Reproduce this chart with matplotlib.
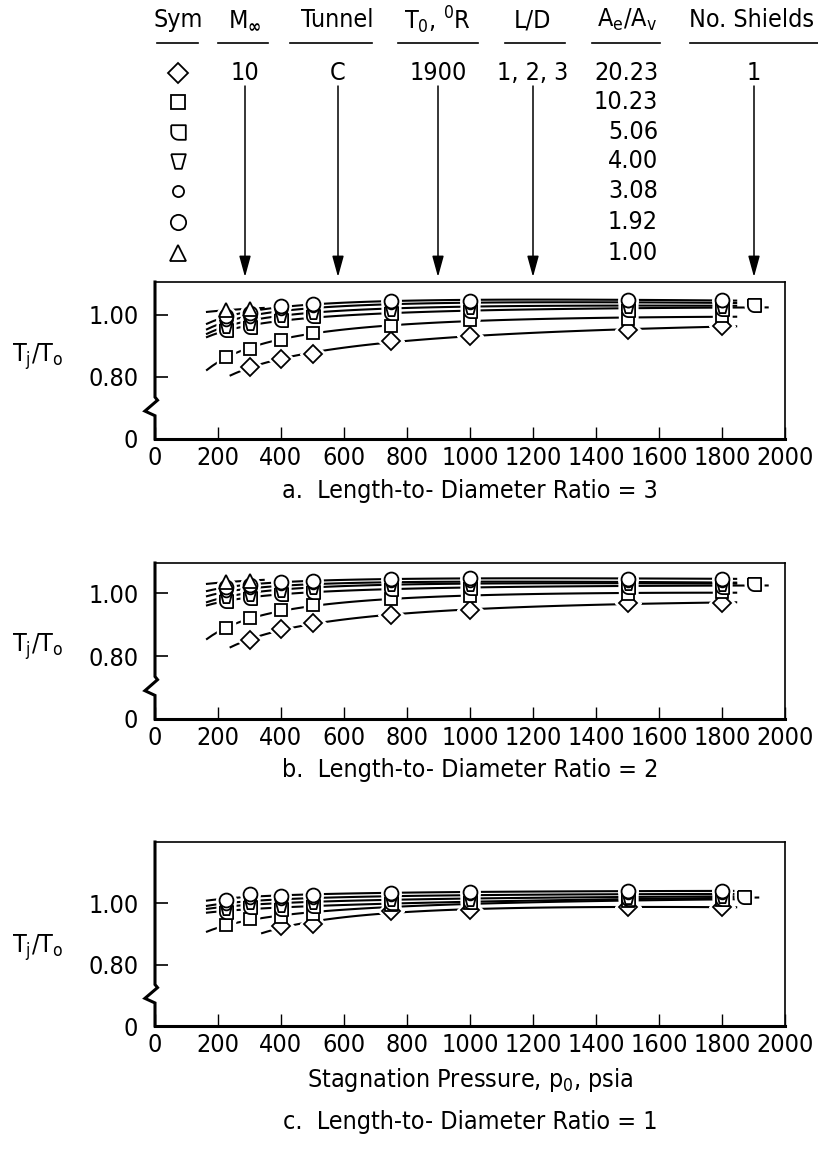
import numpy as np
import matplotlib.pyplot as plt
from matplotlib.path import Path

plt.rcParams['font.family'] = ['Liberation Sans Narrow', 'DejaVu Sans']
plt.rcParams['font.stretch'] = 'condensed'
plt.rcParams['mathtext.fontset'] = 'custom'
plt.rcParams['mathtext.rm'] = 'DejaVu Sans:stretch=condensed'
plt.rcParams['mathtext.it'] = 'DejaVu Sans:stretch=condensed'

nan = np.nan

# ---- data ----
p0 = [225, 300, 400, 500, 750, 1000, 1500, 1800]
area_ratio = ['20.23', '10.23', '5.06', '4.00', '3.08', '1.92', '1.00']

# L/D = 3
ld3_2023 = [nan, 0.832, 0.857, 0.874, 0.916, 0.933, 0.951, 0.963]
ld3_1023 = [0.865, 0.890, 0.919, 0.943, 0.965, 0.984, 0.988, 0.995]
ld3_506 = [0.950, 0.960, 0.985, 0.995, 1.006, 1.011, 1.016, 1.020]
ld3_400 = [0.965, 0.975, 1.000, 1.010, 1.020, 1.025, 1.030, 1.030]
ld3_308 = [0.980, 0.990, 1.015, 1.025, 1.035, 1.036, 1.040, 1.040]
ld3_192 = [0.995, 1.005, 1.030, 1.035, 1.045, 1.045, 1.048, 1.048]
ld3_100 = [1.015, 1.020, nan, nan, nan, nan, nan, nan]
ld3_extra_p = [1900]
ld3_extra_506 = [1.032]

# L/D = 2
ld2_2023 = [nan, 0.851, 0.885, 0.904, 0.931, 0.945, 0.968, 0.970]
ld2_1023 = [0.888, 0.920, 0.945, 0.961, 0.981, 0.990, 0.998, 1.005]
ld2_506 = [0.975, 0.985, 0.998, 1.005, 1.012, 1.018, 1.021, 1.020]
ld2_400 = [0.990, 0.998, 1.010, 1.020, 1.028, 1.030, 1.032, 1.030]
ld2_308 = [1.005, 1.012, 1.025, 1.030, 1.035, 1.035, 1.035, 1.035]
ld2_192 = [1.020, 1.025, 1.035, 1.040, 1.045, 1.048, 1.046, 1.046]
ld2_100 = [1.035, 1.040, nan, nan, nan, nan, nan, nan]
ld2_extra_p = [1900]
ld2_extra_506 = [1.030]

# L/D = 1
ld1_2023 = [nan, nan, 0.924, 0.931, 0.975, 0.978, 0.987, 0.987]
ld1_1023 = [0.929, 0.948, 0.954, 0.964, 0.995, 1.000, 1.008, 1.010]
ld1_506 = [0.972, 0.988, 0.980, 0.990, 1.000, 1.005, 1.012, 1.015]
ld1_400 = [0.985, 1.003, 0.995, 1.003, 1.012, 1.015, 1.020, 1.022]
ld1_308 = [0.995, 1.015, 1.010, 1.015, 1.022, 1.025, 1.030, 1.030]
ld1_192 = [1.010, 1.030, 1.022, 1.028, 1.033, 1.035, 1.040, 1.040]
ld1_100 = [nan, nan, nan, nan, nan, nan, nan, nan]
ld1_extra_p = [1870]
ld1_extra_506 = [1.020]

x_ticks = [0, 200, 400, 600, 800, 1000, 1200, 1400, 1600, 1800, 2000]

# ---- symbols ----
arc = [(np.cos(t), np.sin(t)) for t in np.linspace(-np.pi / 2, -np.pi, 8)]
shield = Path([(-1, 1), (1, 1), (1, -1)] + arc + [(-1, 1)])
trap = Path([(-1, 1), (1, 1), (0.45, -1), (-0.45, -1), (-1, 1)])
syms = [('D', 9.5), ('s', 8.5), (shield, 9.5), (trap, 9.5), ('o', 7), ('o', 10), ('^', 10)]

W, H = 818, 1157
fig = plt.figure(figsize=(W / 100, H / 100), dpi=100)


def ax_rect(top, bottom, left=155, right=785):
    return [left / W, 1 - bottom / H, (right - left) / W, (bottom - top) / H]


def panel(rect, ytop, series, extra_p, extra_506):
    ax = fig.add_axes(rect)
    ax.set_xlim(0, 2000)
    ax.set_ylim(0.6, ytop)
    x = np.array(p0, float)
    for k, ys in enumerate(series):
        ys = np.array(ys, float)
        ok = ~np.isnan(ys)
        if ok.sum() == 0:
            continue
        xs, yv = x[ok], ys[ok]
        if k == 2:
            xs = np.append(xs, extra_p)
            yv = np.append(yv, extra_506)
        deg = 2 if len(xs) > 3 else 1
        c = np.polyfit(np.log(xs), yv, deg)
        xf = np.linspace(xs[0] - 60, xs[-1] + 45, 100)
        ax.plot(xf, np.polyval(c, np.log(xf)), color='k', lw=1.5, zorder=2)
        m, ms = syms[k]
        # white halo so the fairing stops short of each symbol
        ax.plot(xs, yv, ls='none', marker=m, ms=ms + 4, mfc='white', mec='white',
                mew=1.0, zorder=2.5)
        ax.plot(xs, yv, ls='none', marker=m, ms=ms, mfc='white', mec='k',
                mew=1.3, zorder=3 + k)
    # frame with broken left axis
    ax.spines['left'].set_visible(False)
    ax.spines['bottom'].set_linewidth(2.2)
    ax.spines['top'].set_linewidth(1.2)
    ax.spines['right'].set_linewidth(1.2)
    tr = ax.get_yaxis_transform()
    ax.plot([0, 0, 0.004, -0.016, 0, 0], [ytop, 0.735, 0.725, 0.69, 0.675, 0.6],
            transform=tr, color='k', lw=2.2, clip_on=False, zorder=5,
            solid_joinstyle='miter')
    ax.set_yticks([0.6, 0.8, 1.0])
    ax.set_yticklabels(['0', '0.80', '1.00'])
    ax.set_xticks(x_ticks)
    ax.set_xticklabels([str(v) for v in x_ticks])
    ax.tick_params(axis='y', direction='in', length=9, width=1.2, labelsize=18, pad=12)
    ax.tick_params(axis='x', direction='in', length=9, width=1.0, labelsize=18, pad=5)
    ax.yaxis.get_major_ticks()[0].tick1line.set_visible(False)
    return ax


panel(ax_rect(282, 439), 1.106,
      [ld3_2023, ld3_1023, ld3_506, ld3_400, ld3_308, ld3_192, ld3_100],
      ld3_extra_p, ld3_extra_506)
panel(ax_rect(563, 719), 1.096,
      [ld2_2023, ld2_1023, ld2_506, ld2_400, ld2_308, ld2_192, ld2_100],
      ld2_extra_p, ld2_extra_506)
panel(ax_rect(842, 1026), 1.199,
      [ld1_2023, ld1_1023, ld1_506, ld1_400, ld1_308, ld1_192, ld1_100],
      ld1_extra_p, ld1_extra_506)

# ---- overlay for header, labels, captions ----
ov = fig.add_axes([0, 0, 1, 1])
ov.set_xlim(0, W)
ov.set_ylim(H, 0)
ov.axis('off')
ov.patch.set_alpha(0)

fs = 18
heads = [(178, 'Sym', 157, 198), (245, r'M$_{\mathbf{\infty}}$', 218, 268),
         (337, 'Tunnel', 290, 372), (438, r'T$_0$, $^0$R', 398, 478),
         (533, 'L/D', 505, 565), (627, r'A$_e$/A$_v$', 592, 660),
         (752, 'No. Shields', 690, 818)]
for xc, t, x0, x1 in heads:
    ov.text(xc, 20, t, ha='center', va='center', fontsize=fs)
    ov.plot([x0, x1], [43, 43], color='k', lw=1.2)

rows_y = [73, 102, 132, 161, 191, 222, 253]
for k, yy in enumerate(rows_y):
    m, ms = syms[k]
    ov.plot(178, yy, ls='none', marker=m, ms=ms + 1, mfc='white', mec='k', mew=1.3)
    ov.text(658, yy, area_ratio[k], ha='right', va='center', fontsize=fs)
for xc, t in [(245, '10'), (338, 'C'), (438, '1900'), (533, '1, 2, 3'), (754, '1')]:
    ov.text(xc, 73, t, ha='center', va='center', fontsize=fs)
    ov.annotate('', xy=(xc, 277), xytext=(xc, 86),
                arrowprops=dict(arrowstyle='-|>,head_length=0.8,head_width=0.22',
                                lw=1.1, color='k', mutation_scale=16,
                                shrinkA=0, shrinkB=0))

for yy in [357, 647, 948]:
    ov.text(38, yy, r'T$_\mathrm{j}$/T$_\mathrm{o}$', ha='center', va='center', fontsize=fs)

ov.text(470, 491, 'a.  Length-to- Diameter Ratio = 3', ha='center', va='center', fontsize=fs)
ov.text(470, 770, 'b.  Length-to- Diameter Ratio = 2', ha='center', va='center', fontsize=fs)
ov.text(470, 1080, r'Stagnation Pressure, p$_\mathrm{0}$, psia', ha='center', va='center', fontsize=fs)
ov.text(470, 1122, 'c.  Length-to- Diameter Ratio = 1', ha='center', va='center', fontsize=fs)

fig.savefig('out.png', dpi=100)
